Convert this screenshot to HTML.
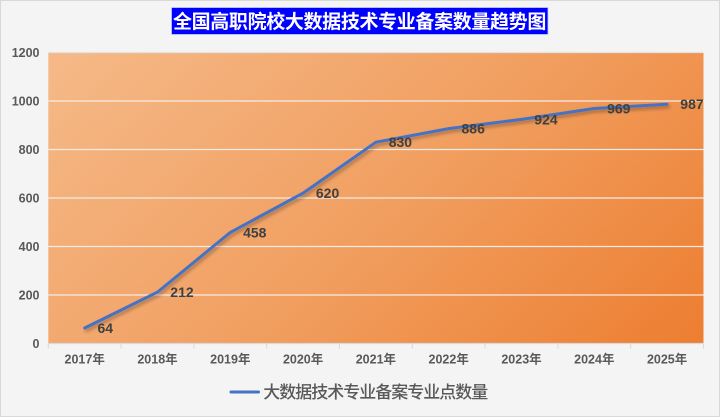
<!DOCTYPE html>
<html><head><meta charset="utf-8">
<style>
html,body{margin:0;padding:0;background:#f4f4f4;}
svg{display:block;}
</style></head>
<body>
<svg width="720" height="417" viewBox="0 0 720 417" xmlns="http://www.w3.org/2000/svg">
<defs>
<linearGradient id="bg" gradientUnits="userSpaceOnUse" x1="160" y1="-30" x2="592" y2="428">
<stop offset="0" stop-color="#f5b886"/>
<stop offset="0.5" stop-color="#f1a062"/>
<stop offset="1" stop-color="#ed7f32"/>
</linearGradient>
<filter id="sh" x="-10%" y="-10%" width="120%" height="130%">
<feDropShadow dx="1.5" dy="2.5" stdDeviation="1.5" flood-color="#000" flood-opacity="0.3"/>
</filter>
</defs>
<rect x="0.5" y="0.5" width="719" height="416" fill="#f4f4f4" stroke="#d9d9d9" stroke-width="1"/>
<!-- title -->
<rect x="171.5" y="7.5" width="376.5" height="27" fill="#0000ff" stroke="#c8ceff" stroke-width="0.8"/>
<text x="359.5" y="27.8" text-anchor="middle" font-family="'Liberation Sans','Noto Sans CJK SC',sans-serif" font-weight="bold" font-size="19" letter-spacing="-0.35" fill="#ffffff">全国高职院校大数据技术专业备案数量趋势图</text>
<!-- plot -->
<rect x="48.3" y="52.5" width="655.2" height="291" fill="url(#bg)"/>
<g stroke="#f3ece6" stroke-width="1.2">
<line x1="48.3" x2="703.5" y1="101" y2="101"/>
<line x1="48.3" x2="703.5" y1="149.5" y2="149.5"/>
<line x1="48.3" x2="703.5" y1="198" y2="198"/>
<line x1="48.3" x2="703.5" y1="246.5" y2="246.5"/>
<line x1="48.3" x2="703.5" y1="295" y2="295"/>
</g>
<line x1="48.3" x2="703.5" y1="52.5" y2="52.5" stroke="#e2e2e2" stroke-width="1.2"/>
<line x1="48.3" x2="703.5" y1="343.5" y2="343.5" stroke="#d9d9d9" stroke-width="1.2"/>
<g stroke="#d9d9d9" stroke-width="1">
<line x1="48.3" x2="48.3" y1="343.5" y2="348.5"/>
<line x1="121.1" x2="121.1" y1="343.5" y2="348.5"/>
<line x1="193.9" x2="193.9" y1="343.5" y2="348.5"/>
<line x1="266.7" x2="266.7" y1="343.5" y2="348.5"/>
<line x1="339.5" x2="339.5" y1="343.5" y2="348.5"/>
<line x1="412.3" x2="412.3" y1="343.5" y2="348.5"/>
<line x1="485.1" x2="485.1" y1="343.5" y2="348.5"/>
<line x1="557.9" x2="557.9" y1="343.5" y2="348.5"/>
<line x1="630.7" x2="630.7" y1="343.5" y2="348.5"/>
<line x1="703.5" x2="703.5" y1="343.5" y2="348.5"/>
</g>
<!-- y labels -->
<g font-family="'Liberation Sans','Noto Sans CJK SC',sans-serif" font-weight="bold" font-size="12.5" fill="#595959" text-anchor="end">
<text x="39.5" y="57">1200</text>
<text x="39.5" y="105.5">1000</text>
<text x="39.5" y="154">800</text>
<text x="39.5" y="202.5">600</text>
<text x="39.5" y="251">400</text>
<text x="39.5" y="299.5">200</text>
<text x="39.5" y="348">0</text>
</g>
<!-- x labels -->
<g font-family="'Liberation Sans','Noto Sans CJK SC',sans-serif" font-weight="bold" font-size="12.5" fill="#595959" text-anchor="middle">
<text x="84.7" y="363.5">2017年</text>
<text x="157.5" y="363.5">2018年</text>
<text x="230.3" y="363.5">2019年</text>
<text x="303.1" y="363.5">2020年</text>
<text x="375.9" y="363.5">2021年</text>
<text x="448.7" y="363.5">2022年</text>
<text x="521.5" y="363.5">2023年</text>
<text x="594.3" y="363.5">2024年</text>
<text x="667.1" y="363.5">2025年</text>
</g>
<!-- series -->
<polyline filter="url(#sh)" fill="none" stroke="#4472c4" stroke-width="3" stroke-linejoin="round" stroke-linecap="round"
points="84.7,328 157.5,292.1 230.3,232.4 303.1,193.1 375.9,142.2 448.7,128.6 521.5,119.4 594.3,108.5 667.1,104.2"/>
<!-- data labels -->
<g font-family="'Liberation Sans',sans-serif" font-weight="bold" font-size="14" fill="#404040">
<text x="97.5" y="333">64</text>
<text x="170.3" y="297">212</text>
<text x="243.1" y="237.3">458</text>
<text x="315.9" y="198">620</text>
<text x="388.7" y="147.1">830</text>
<text x="461.5" y="133.5">886</text>
<text x="534.3" y="124.3">924</text>
<text x="607.1" y="113.4">969</text>
<text x="680.3" y="109.1">987</text>
</g>
<!-- legend -->
<line x1="231" x2="258.5" y1="392" y2="392" stroke="#4472c4" stroke-width="3" stroke-linecap="round"/>
<text x="263.3" y="398.2" font-family="'Liberation Sans','Noto Sans CJK SC',sans-serif" font-size="17" font-weight="500" letter-spacing="-1" fill="#595959">大数据技术专业备案专业点数量</text>
</svg>
</body></html>
